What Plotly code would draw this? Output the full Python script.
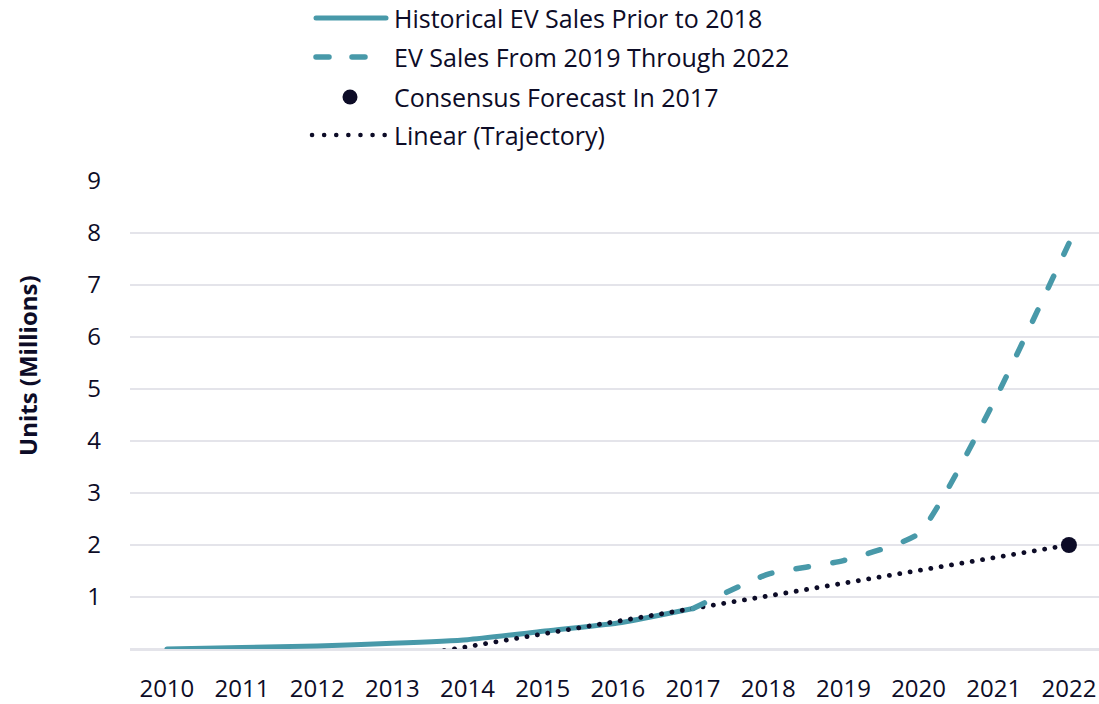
import plotly.graph_objects as go

# --- data -------------------------------------------------------------
years = list(range(2010, 2023))
tick_labels = [str(y) for y in years]

historical_years = [2010, 2011, 2012, 2013, 2014, 2015, 2016, 2017]
historical_sales = [0.0, 0.03, 0.06, 0.11, 0.18, 0.34, 0.50, 0.78]

recent_years = [2017, 2018, 2019, 2020, 2021, 2022]
recent_sales = [0.78, 1.44, 1.70, 2.22, 4.75, 7.80]

forecast_years = [2022]
forecast_sales = [2.0]

trajectory_years = [2013, 2014, 2015, 2016, 2017, 2018, 2019, 2020, 2021, 2022]
trajectory_values = [-0.20, 0.05, 0.30, 0.54, 0.78, 1.02, 1.27, 1.51, 1.76, 2.0]

y_ticks = [1, 2, 3, 4, 5, 6, 7, 8, 9]

legend_labels = [
    "Historical EV Sales Prior to 2018",
    "EV Sales From 2019 Through 2022",
    "Consensus Forecast In 2017",
    "Linear (Trajectory)",
]

# --- style ------------------------------------------------------------
TEAL = "#4899a9"
NAVY = "#0d0c27"
GRID = "#e4e4ea"
FONT = "Open Sans"

W, H = 1099, 704
ML, MR, MT, MB = 130, 0, 181, 55
PW, PH = W - ML - MR, H - MT - MB

DASH_TEAL = "12.5px,24.5px"
DOTS = "0.1px,10.4px"


def px_x(x):
    return (x - ML) / PW


def px_y(y):
    return (H - MB - y) / PH


fig = go.Figure()

fig.add_trace(go.Scatter(
    x=historical_years, y=historical_sales, mode="lines",
    line=dict(color=TEAL, width=5, shape="spline", smoothing=0.5),
    showlegend=False, name=legend_labels[0],
))
fig.add_trace(go.Scatter(
    x=trajectory_years, y=trajectory_values, mode="lines",
    line=dict(color=NAVY, width=4.8, dash=DOTS),
    showlegend=False, name=legend_labels[3],
))
fig.add_trace(go.Scatter(
    x=recent_years, y=recent_sales, mode="lines",
    line=dict(color=TEAL, width=5.5, dash=DASH_TEAL, shape="spline", smoothing=0.5),
    showlegend=False, name=legend_labels[1],
))
fig.add_trace(go.Scatter(
    x=forecast_years, y=forecast_sales, mode="markers",
    marker=dict(color=NAVY, size=16, line=dict(width=0)),
    cliponaxis=False, showlegend=False, name=legend_labels[2],
))

# --- legend drawn above the plot --------------------------------------
rows_y = [18, 57, 97, 135]
sample_x0, sample_x1, text_x = 316, 386, 392
shapes = []
annotations = []
shapes.append(dict(type="line", xref="paper", yref="paper",
                   x0=px_x(sample_x0), x1=px_x(sample_x1),
                   y0=px_y(rows_y[0]), y1=px_y(rows_y[0]),
                   line=dict(color=TEAL, width=5)))
shapes.append(dict(type="line", xref="paper", yref="paper",
                   x0=px_x(sample_x0), x1=px_x(sample_x1 - 12),
                   y0=px_y(rows_y[1]), y1=px_y(rows_y[1]),
                   line=dict(color=TEAL, width=5.5, dash="13px,23px")))
r = 7.5
cx = 350
shapes.append(dict(type="circle", xref="paper", yref="paper",
                   x0=px_x(cx - r), x1=px_x(cx + r),
                   y0=px_y(rows_y[2] + r), y1=px_y(rows_y[2] - r),
                   fillcolor=NAVY, line=dict(width=0)))
shapes.append(dict(type="line", xref="paper", yref="paper",
                   x0=px_x(312), x1=px_x(386),
                   y0=px_y(rows_y[3]), y1=px_y(rows_y[3]),
                   line=dict(color=NAVY, width=4.5, dash="0.1px,12px")))

for label, ry in zip(legend_labels, rows_y):
    annotations.append(dict(
        text=label, xref="paper", yref="paper",
        x=px_x(text_x), y=px_y(ry), xanchor="left", yanchor="middle",
        showarrow=False, font=dict(family=FONT, size=25, color=NAVY),
    ))

annotations.append(dict(
    text="<b>Units (Millions)</b>", xref="paper", yref="paper",
    x=px_x(27), y=px_y(366), xanchor="center", yanchor="middle",
    textangle=-90, showarrow=False,
    font=dict(family=FONT, size=24, color=NAVY),
))

fig.update_layout(
    width=W, height=H,
    margin=dict(l=ML, r=MR, t=MT, b=MB, pad=0),
    paper_bgcolor="white", plot_bgcolor="white",
    font=dict(family=FONT, color=NAVY, size=24),
    shapes=shapes, annotations=annotations,
    showlegend=False,
)
fig.update_xaxes(
    range=[2009.51, 2022.40], tickvals=years, ticktext=tick_labels,
    showgrid=False, zeroline=False, showline=False, ticks="",
    tickfont=dict(family=FONT, size=24, color=NAVY),
    ticklabelstandoff=23,
)
fig.update_yaxes(
    range=[0, 9], tickvals=y_ticks, ticktext=[str(v) for v in y_ticks],
    showgrid=True, gridcolor=GRID, gridwidth=2,
    zeroline=True, zerolinecolor=GRID, zerolinewidth=2.5,
    showline=False, ticks="",
    tickfont=dict(family=FONT, size=24, color=NAVY),
    ticklabelstandoff=28,
)

round_caps = """
var gd = document.getElementById('{plot_id}');
function roundCaps() {
  gd.querySelectorAll('.scatterlayer .js-line, .shapelayer path').forEach(function (p) {
    p.style.strokeLinecap = 'round';
    p.style.strokeLinejoin = 'round';
  });
}
roundCaps();
gd.on('plotly_afterplot', roundCaps);
"""

fig.write_html("out.html", post_script=round_caps)
